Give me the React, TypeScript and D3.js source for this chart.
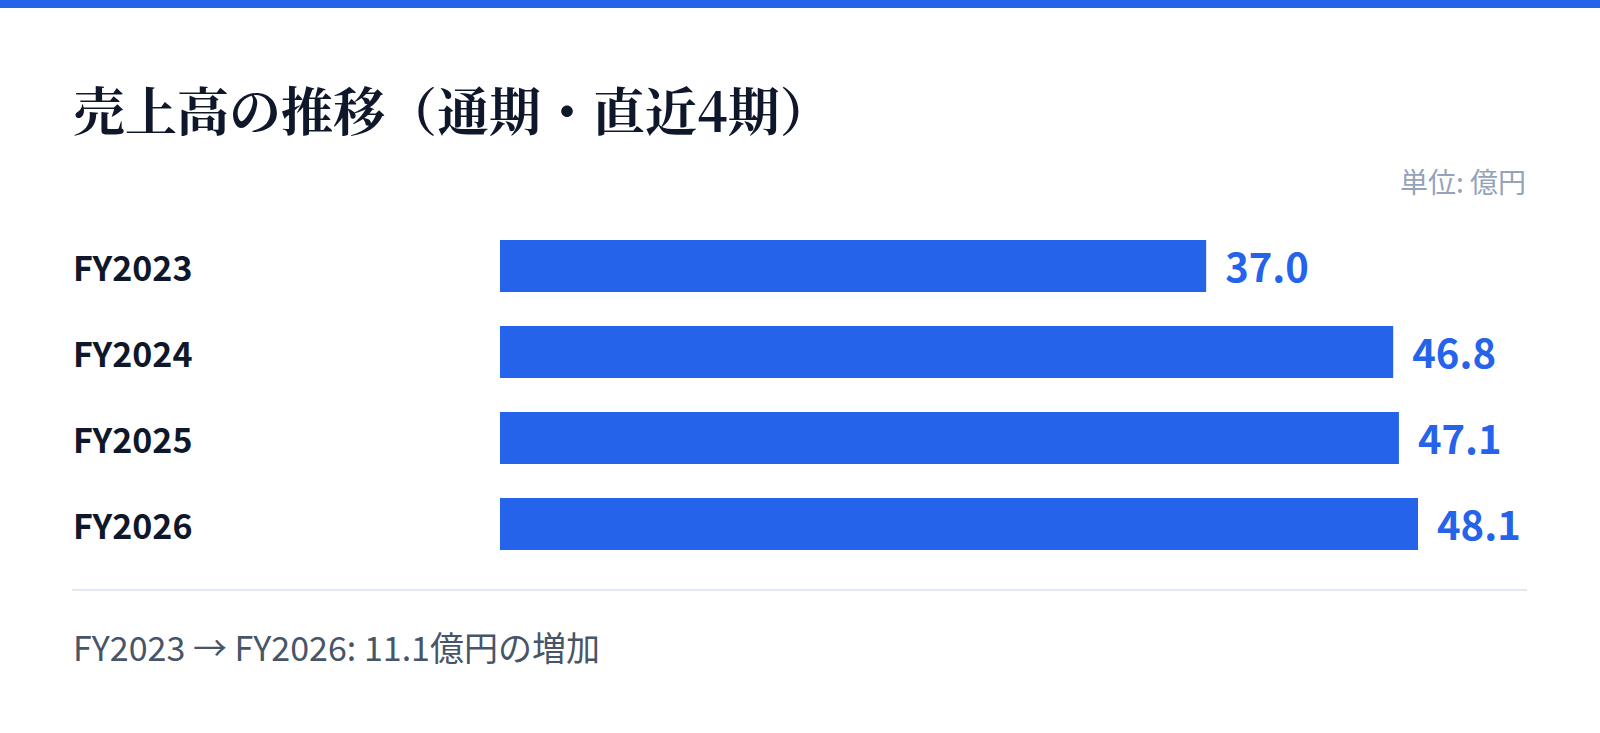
import React from "react";
import * as d3 from "d3";

const categories: string[] = ["FY2023", "FY2024", "FY2025", "FY2026"];
const values: number[] = [37.0, 46.8, 47.1, 48.1];
const titleText = "売上高の推移（通期・直近4期）";
const unitText = "単位: 億円";
const footerText = "FY2023 → FY2026: 11.1億円の増加";

const W = 1600;
const H = 733;
const BLUE = "#2563eb";
const SANS = "'Noto Sans CJK JP', 'Noto Sans', sans-serif";
const SERIF = "'Noto Serif CJK JP', 'DejaVu Serif', 'Liberation Serif', serif";

export default function App() {
  const x = d3.scaleLinear().domain([0, d3.max(values) as number]).range([500, 1418]);
  const y = d3
    .scaleBand<string>()
    .domain(categories)
    .range([223, 567])
    .paddingInner(0.3953)
    .paddingOuter(0.1977);
  const bw = y.bandwidth();

  return (
    <svg
      width={W}
      height={H}
      viewBox={`0 0 ${W} ${H}`}
      style={{ position: "absolute", left: 0, top: 0, display: "block", background: "#ffffff" }}
    >
      <rect x={0} y={0} width={W} height={H} fill="#ffffff" />
      <rect x={0} y={0} width={W} height={8} fill={BLUE} />
      <text x={73} y={131} fontFamily={SERIF} fontWeight={700} fontSize={52} fill="#0f172a">
        {titleText}
      </text>
      <text x={1526} y={193} textAnchor="end" fontFamily={SANS} fontSize={28} fill="#94a3b8">
        {unitText}
      </text>
      {categories.map((c, i) => {
        const yy = y(c) as number;
        const cy = yy + bw / 2;
        const xe = x(values[i]);
        return (
          <g key={c}>
            <text x={73} y={cy + 15} fontFamily={SANS} fontWeight={700} fontSize={34} fill="#0f172a">
              {c}
            </text>
            <rect x={x(0)} y={yy} width={xe - x(0)} height={bw} fill={BLUE} />
            <text x={xe + 19} y={cy + 16} fontFamily={SANS} fontWeight={700} fontSize={40} fill={BLUE}>
              {d3.format(".1f")(values[i])}
            </text>
          </g>
        );
      })}
      <line x1={72} x2={1527} y1={590} y2={590} stroke="#e2e8f0" strokeWidth={2} />
      <text x={73} y={661} fontFamily={SANS} fontSize={34} fill="#475569">
        {footerText}
      </text>
    </svg>
  );
}
